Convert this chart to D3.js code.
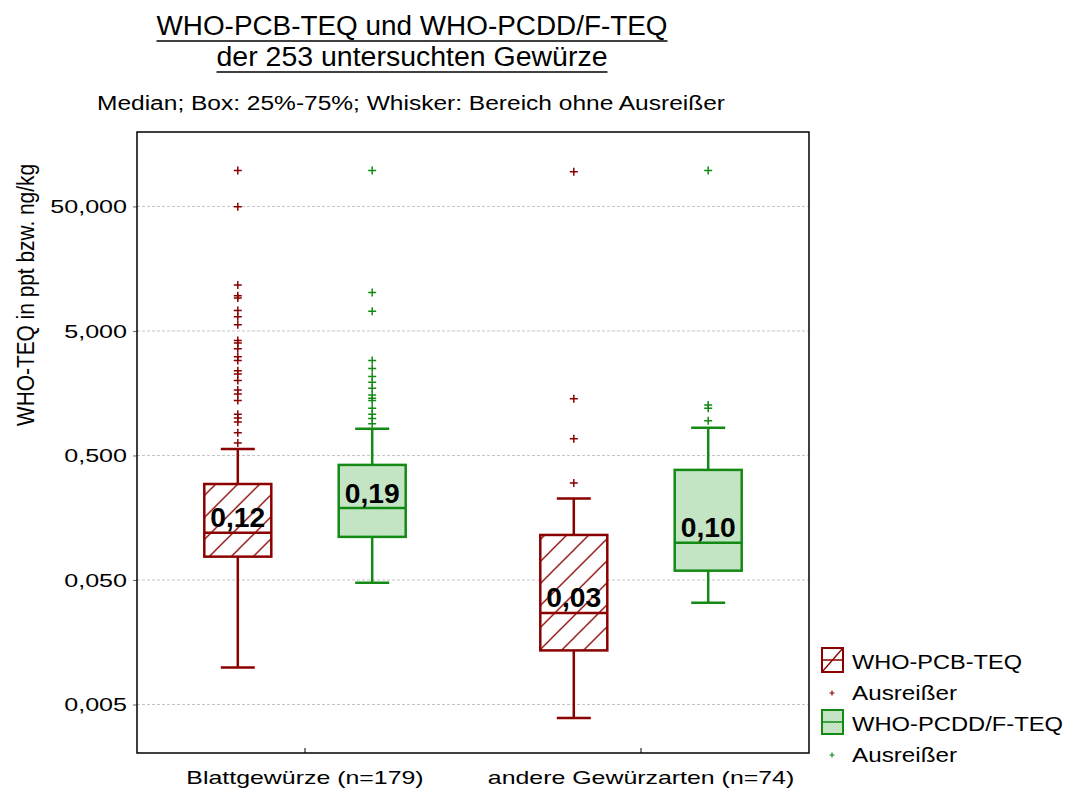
<!DOCTYPE html>
<html>
<head>
<meta charset="utf-8">
<script src="https://cdn.jsdelivr.net/npm/d3@7/dist/d3.min.js"></script>
<style>
    body { margin: 0; background: #fff; }
    svg text { font-family: "Liberation Sans", Arial, sans-serif; fill: #000; }
</style>
</head>
<body>
<svg id="chart" width="1066" height="792"></svg>
<script>
// categories on the x axis and the two series drawn in each
const categories = ["Blattgewürze (n=179)", "andere Gewürzarten (n=74)"];
const seriesNames = ["WHO-PCB-TEQ", "WHO-PCDD/F-TEQ"];

// box stats per category: [whisker low, q1, median, q3, whisker high]
const pcbStats = [
    [0.0099, 0.077, 0.12, 0.295, 0.564],
    [0.0039, 0.0136, 0.0272, 0.115, 0.226]
];
const pcddStats = [
    [0.0476, 0.111, 0.189, 0.42, 0.82],
    [0.0329, 0.0594, 0.0997, 0.383, 0.836]
];

// outliers per category
const pcbOutliers = [
    [97, 49.6, 11.7, 9.6, 9.2, 7.3, 6.5, 5.6, 4.2, 4.0, 3.6, 3.1, 2.9, 2.4, 2.26, 2.0, 1.68, 1.56, 1.38, 1.07, 1.0, 0.93, 0.76, 0.63],
    [95, 1.43, 0.68, 0.30]
];
const pcddOutliers = [
    [97, 10.2, 7.2, 2.9, 2.5, 2.15, 1.94, 1.73, 1.53, 1.44, 1.38, 1.2, 1.07, 0.99, 0.9],
    [97, 1.27, 1.2, 0.95]
];

// y axis ticks
const tickValues = [0.005, 0.05, 0.5, 5, 50];
const tickLabels = ["0,005", "0,050", "0,500", "5,000", "50,000"];

const red = "#8b0000";
const green = "#138a13";

const svg = d3.select("#chart");
const plot = { left: 137, right: 809, top: 132, bottom: 753 };

// stretch text horizontally like the original export
function stretch(sel, k) {
    sel.each(function () {
        const n = this.getComputedTextLength();
        d3.select(this).attr("textLength", n * k).attr("lengthAdjust", "spacingAndGlyphs");
    });
}
function fitWidth(sel, w) {
    sel.attr("textLength", w).attr("lengthAdjust", "spacingAndGlyphs");
}

// patterns for the boxes
const defs = svg.append("defs");
const hatch = defs.append("pattern")
    .attr("id", "hatchRed")
    .attr("patternUnits", "userSpaceOnUse")
    .attr("width", 22).attr("height", 22);
hatch.append("rect").attr("width", 22).attr("height", 22).attr("fill", "#fff");
hatch.append("path")
    .attr("d", "M-2,2 L2,-2 M0,22 L22,0 M20,24 L24,20")
    .attr("stroke", red).attr("stroke-width", 1.3);

const texture = defs.append("pattern")
    .attr("id", "fillGreen")
    .attr("patternUnits", "userSpaceOnUse")
    .attr("width", 3).attr("height", 3);
texture.append("rect").attr("width", 3).attr("height", 3).attr("fill", "#cbe8cb");
texture.append("path")
    .attr("d", "M-1,1 L1,-1 M0,3 L3,0 M2,4 L4,2")
    .attr("stroke", "#b2d9b2").attr("stroke-width", 0.8);

// scales
const x = d3.scaleBand().domain(categories).range([plot.left, plot.right]);
const xs = d3.scalePoint().domain(seriesNames).range([0, x.bandwidth()]).padding(0.75);
const y = d3.scaleLog().domain([0.00204, 198]).range([plot.bottom, plot.top]);

// grid lines
svg.append("g")
    .selectAll("line")
    .data(tickValues)
    .join("line")
    .attr("x1", plot.left).attr("x2", plot.right)
    .attr("y1", d => y(d)).attr("y2", d => y(d))
    .attr("stroke", "#c4c4c4")
    .attr("stroke-dasharray", "3,2");

// y axis
const yAxis = svg.append("g")
    .attr("transform", `translate(${plot.left},0)`)
    .call(d3.axisLeft(y).tickValues(tickValues).tickFormat((d, i) => tickLabels[i]).tickSize(4).tickPadding(6));
yAxis.select(".domain").remove();
yAxis.selectAll("line").attr("stroke", "#666");
yAxis.selectAll("text")
    .style("font-size", "19px")
    .attr("font-family", null)
    .call(stretch, 1.32);

// x axis with inward ticks
const xAxis = svg.append("g")
    .attr("transform", `translate(0,${plot.bottom})`)
    .call(d3.axisBottom(x).tickSize(-5).tickPadding(18));
xAxis.select(".domain").remove();
xAxis.selectAll("line").attr("stroke", "#000");
xAxis.selectAll("text")
    .style("font-size", "19px")
    .attr("font-family", null)
    .call(stretch, 1.31);

// rows: one box per category and series
const rows = [];
categories.forEach((c, i) => {
    rows.push({ cat: c, series: seriesNames[0], s: pcbStats[i], out: pcbOutliers[i], color: red, fill: "url(#hatchRed)" });
    rows.push({ cat: c, series: seriesNames[1], s: pcddStats[i], out: pcddOutliers[i], color: green, fill: "url(#fillGreen)" });
});

const boxW = 67;
const capW = 34;
const fmt = d => d3.format(".2f")(d).replace(".", ",");

const boxes = svg.append("g")
    .selectAll("g")
    .data(rows)
    .join("g")
    .attr("transform", d => `translate(${x(d.cat) + xs(d.series)},0)`);

// whiskers
boxes.append("path")
    .attr("d", d => `M0,${y(d.s[3])}V${y(d.s[4])}M${-capW / 2},${y(d.s[4])}H${capW / 2}` +
        `M0,${y(d.s[1])}V${y(d.s[0])}M${-capW / 2},${y(d.s[0])}H${capW / 2}`)
    .attr("stroke", d => d.color)
    .attr("stroke-width", 2.5)
    .attr("fill", "none");

// box
boxes.append("rect")
    .attr("x", -boxW / 2)
    .attr("width", boxW)
    .attr("y", d => y(d.s[3]))
    .attr("height", d => y(d.s[1]) - y(d.s[3]))
    .attr("fill", d => d.fill)
    .attr("stroke", d => d.color)
    .attr("stroke-width", 2.5);

// median
boxes.append("line")
    .attr("x1", -boxW / 2).attr("x2", boxW / 2)
    .attr("y1", d => y(d.s[2])).attr("y2", d => y(d.s[2]))
    .attr("stroke", d => d.color)
    .attr("stroke-width", 2.5);

// outliers
boxes.append("g")
    .selectAll("path")
    .data(d => d.out.map(v => ({ v, color: d.color })))
    .join("path")
    .attr("d", d => `M-4,${y(d.v)}H4M0,${y(d.v) - 4}V${y(d.v) + 4}`)
    .attr("stroke", d => d.color)
    .attr("stroke-width", 1.5);

// median labels
boxes.append("text")
    .attr("y", d => y(d.s[2]) - 5.5)
    .attr("text-anchor", "middle")
    .style("font-size", "27px")
    .style("font-weight", "bold")
    .text(d => fmt(d.s[2]))
    .call(fitWidth, 55);

// frame
svg.append("rect")
    .attr("x", plot.left).attr("y", plot.top)
    .attr("width", plot.right - plot.left)
    .attr("height", plot.bottom - plot.top)
    .attr("fill", "none")
    .attr("stroke", "#000")
    .attr("stroke-width", 1.5);

// titles
const titleLines = [
    { text: "WHO-PCB-TEQ und WHO-PCDD/F-TEQ", y: 35, w: 511 },
    { text: "der 253 untersuchten Gewürze", y: 66, w: 391 }
];
titleLines.forEach(t => {
    const cx = 412;
    svg.append("text")
        .attr("x", cx).attr("y", t.y)
        .attr("text-anchor", "middle")
        .style("font-size", "27px")
        .text(t.text)
        .call(fitWidth, t.w);
    svg.append("line")
        .attr("x1", cx - t.w / 2).attr("x2", cx + t.w / 2)
        .attr("y1", t.y + 6).attr("y2", t.y + 6)
        .attr("stroke", "#000").attr("stroke-width", 1.5);
});

svg.append("text")
    .attr("x", 411).attr("y", 110)
    .attr("text-anchor", "middle")
    .style("font-size", "19.5px")
    .text("Median; Box: 25%-75%; Whisker: Bereich ohne Ausreißer")
    .call(fitWidth, 628);

// y axis title
svg.append("text")
    .attr("transform", "translate(34,295) scale(1.25,1) rotate(-90)")
    .attr("text-anchor", "middle")
    .style("font-size", "19px")
    .text("WHO-TEQ in ppt bzw. ng/kg")
    .call(fitWidth, 262);

// legend
const legend = svg.append("g").attr("transform", "translate(822,0)");
const legendItems = [
    { type: "box", color: red, fill: "#fff", label: seriesNames[0], y: 669, w: 170 },
    { type: "plus", color: red, label: "Ausreißer", y: 700, w: 105 },
    { type: "box", color: green, fill: "url(#fillGreen)", label: seriesNames[1], y: 731, w: 211 },
    { type: "plus", color: green, label: "Ausreißer", y: 762, w: 105 }
];
legendItems.forEach((d, i) => {
    if (d.type === "box") {
        legend.append("rect")
            .attr("x", 0).attr("y", d.y - 21)
            .attr("width", 21).attr("height", 24)
            .attr("fill", d.fill)
            .attr("stroke", d.color).attr("stroke-width", 2);
        legend.append("line")
            .attr("x1", 0).attr("x2", 21)
            .attr("y1", d.y - 9).attr("y2", d.y - 9)
            .attr("stroke", d.color).attr("stroke-width", 1.5);
        if (i === 0) {
            legend.append("line")
                .attr("x1", 0).attr("y1", d.y + 3)
                .attr("x2", 21).attr("y2", d.y - 21)
                .attr("stroke", d.color).attr("stroke-width", 1.3);
        }
    } else {
        legend.append("path")
            .attr("d", `M7.5,${d.y - 7}h5M10,${d.y - 9.5}v5`)
            .attr("stroke", d.color).attr("stroke-width", 1.2);
    }
    legend.append("text")
        .attr("x", 30).attr("y", d.y)
        .style("font-size", "20px")
        .text(d.label)
        .call(fitWidth, d.w);
});
</script>
</body>
</html>
